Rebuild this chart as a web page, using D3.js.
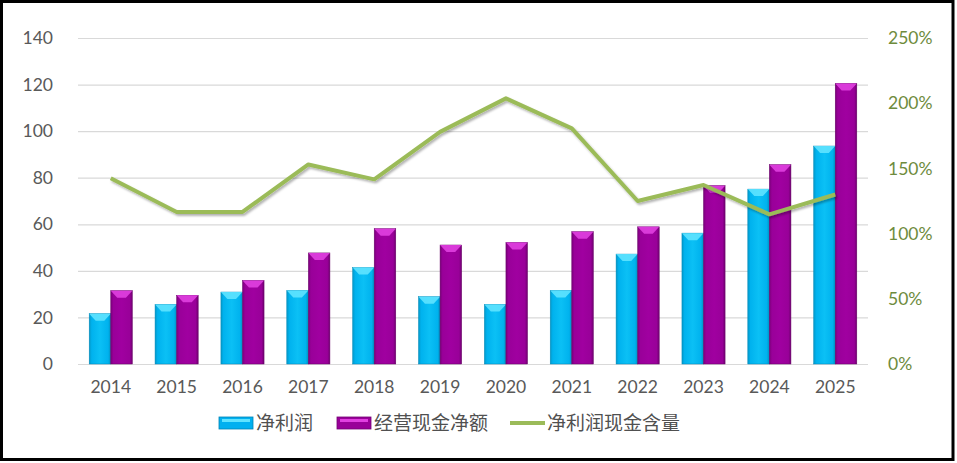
<!DOCTYPE html>
<html><head><meta charset="utf-8">
<script src="https://cdnjs.cloudflare.com/ajax/libs/d3/7.8.5/d3.min.js"></script>
<style>
html,body{margin:0;padding:0;background:#fff;}
svg{display:block;}
</style></head>
<body>
<svg id="chart" width="957" height="463"></svg>
<script>
const years = ["2014","2015","2016","2017","2018","2019","2020","2021","2022","2023","2024","2025"];
const netProfit = [21.6, 25.6, 30.9, 31.6, 41.4, 28.9, 25.6, 31.6, 47.2, 56.2, 75.1, 93.6];
const opCash = [31.5, 29.5, 35.9, 47.7, 58.1, 51.1, 52.2, 56.8, 58.9, 76.6, 85.6, 120.5];
const cashRatio = [1.424, 1.166, 1.166, 1.53, 1.416, 1.78, 2.037, 1.807, 1.25, 1.373, 1.148, 1.30];
const leftTicks = [0, 20, 40, 60, 80, 100, 120, 140];
const rightTicks = [0, 0.5, 1.0, 1.5, 2.0, 2.5];
const seriesNames = ["净利润", "经营现金净额", "净利润现金含量"];

const svg = d3.select("#chart");
const W = 957, H = 463;
const m = {left: 78, right: 89, top: 38, bottom: 99};
const x0 = m.left, x1 = W - m.right, yTop = m.top, yBot = H - m.bottom;
const numFont = "Lato, 'Open Sans', sans-serif";

const defs = svg.append("defs");
function hGrad(id, stops) {
  const g = defs.append("linearGradient").attr("id", id).attr("x1", "0").attr("x2", "1").attr("y1", "0").attr("y2", "0");
  stops.forEach(s => g.append("stop").attr("offset", s[0]).attr("stop-color", s[1]));
}
hGrad("gCyan", [[0, "#0398C8"], [0.12, "#00B2EE"], [0.5, "#0BC0F5"], [0.88, "#00B2EE"], [1, "#0090C0"]]);
hGrad("gPurple", [[0, "#7A007A"], [0.12, "#990099"], [0.5, "#A000A0"], [0.88, "#990099"], [1, "#700070"]]);
const f = defs.append("filter").attr("id", "shadow").attr("x", "-5%").attr("y", "-20%").attr("width", "110%").attr("height", "140%");
f.append("feDropShadow").attr("dx", 1.5).attr("dy", 2).attr("stdDeviation", 1.2).attr("flood-color", "#000").attr("flood-opacity", 0.3);

const x = d3.scaleBand().domain(years).range([x0, x1]).paddingInner(0.345).paddingOuter(0.17);
const xs = d3.scaleBand().domain([0, 1]).range([0, x.bandwidth()]);
const yL = d3.scaleLinear().domain([0, 140]).range([yBot, yTop]);
const yR = d3.scaleLinear().domain([0, 2.5]).range([yBot, yTop]);

// gridlines
svg.append("g").attr("transform", `translate(${x0},0)`)
  .call(d3.axisLeft(yL).tickValues(leftTicks).tickSize(-(x1 - x0)).tickFormat(""))
  .call(g => g.select(".domain").remove())
  .call(g => g.selectAll("line").attr("stroke", "#D9D9D9").attr("stroke-width", 1.2));

// left axis labels
svg.append("g").attr("transform", `translate(${x0},0)`)
  .call(d3.axisLeft(yL).tickValues(leftTicks).tickSize(0).tickPadding(25))
  .call(g => g.select(".domain").remove())
  .call(g => g.selectAll("text").attr("fill", "#595959").attr("font-size", 17.5).attr("font-family", numFont));

// right axis labels
svg.append("g").attr("transform", `translate(${x1},0)`)
  .call(d3.axisRight(yR).tickValues(rightTicks).tickSize(0).tickPadding(20).tickFormat(d3.format(".0%")))
  .call(g => g.select(".domain").remove())
  .call(g => g.selectAll("text").attr("fill", "#6E8B3D").attr("font-size", 17.5).attr("font-family", numFont));

// x axis labels
svg.append("g").attr("transform", `translate(0,${yBot})`)
  .call(d3.axisBottom(x).tickSize(0).tickPadding(17))
  .call(g => g.select(".domain").remove())
  .call(g => g.selectAll("text").attr("fill", "#595959").attr("font-size", 17.5).attr("font-family", numFont));

// bars
const series = [
  {vals: netProfit, fill: "url(#gCyan)", hi: "#5FE3FF", edge: "#0087B8"},
  {vals: opCash, fill: "url(#gPurple)", hi: "#E040E0", edge: "#660066"}
];
series.forEach((s, si) => {
  const g = svg.append("g");
  years.forEach((yr, i) => {
    const bx = x(yr) + xs(si), bw = xs.bandwidth();
    const by = yL(s.vals[i]);
    const bh = yBot - by;
    g.append("rect").attr("x", bx).attr("y", by).attr("width", bw).attr("height", bh)
      .attr("fill", s.fill).attr("stroke", s.edge).attr("stroke-width", 0.5);
    const d = Math.min(7, bh);
    g.append("path")
      .attr("d", `M${bx},${by}L${bx + bw},${by}L${bx + bw * 0.7},${by + d}L${bx + bw * 0.3},${by + d}Z`)
      .attr("fill", s.hi).attr("opacity", 0.9);
  });
});

// line
const line = d3.line().x((d, i) => x(years[i]) + x.bandwidth() / 2).y(d => yR(d));
svg.append("path").datum(cashRatio).attr("d", line)
  .attr("fill", "none").attr("stroke", "#9BBB59").attr("stroke-width", 4)
  .attr("stroke-linejoin", "round").attr("filter", "url(#shadow)");

// legend
const lg = svg.append("g").attr("font-family", "'Noto Sans CJK SC', sans-serif").attr("font-size", 19).attr("fill", "#505050");
const ly = 423;
const items = [
  {x: 219, type: "bar", c: "#00B0F0", hi: "#5FE3FF"},
  {x: 337, type: "bar", c: "#990099", hi: "#E040E0"},
  {x: 510, type: "line", c: "#9BBB59"}
];
items.forEach((it, i) => {
  if (it.type === "bar") {
    lg.append("rect").attr("x", it.x).attr("y", ly - 6).attr("width", 34).attr("height", 12)
      .attr("fill", it.c).attr("stroke", d3.color(it.c).darker(0.8)).attr("stroke-width", 0.8);
    lg.append("rect").attr("x", it.x + 3).attr("y", ly - 4).attr("width", 28).attr("height", 3).attr("fill", it.hi);
  } else {
    lg.append("line").attr("x1", it.x).attr("x2", it.x + 35).attr("y1", ly).attr("y2", ly)
      .attr("stroke", it.c).attr("stroke-width", 4);
  }
  lg.append("text").attr("x", it.x + 37).attr("y", ly).attr("dy", "0.35em").text(seriesNames[i]);
});

// outer frame
svg.append("rect").attr("x", 1.5).attr("y", 1.5).attr("width", 951.5).attr("height", 458)
  .attr("fill", "none").attr("stroke", "#000").attr("stroke-width", 3);
</script>
</body></html>
